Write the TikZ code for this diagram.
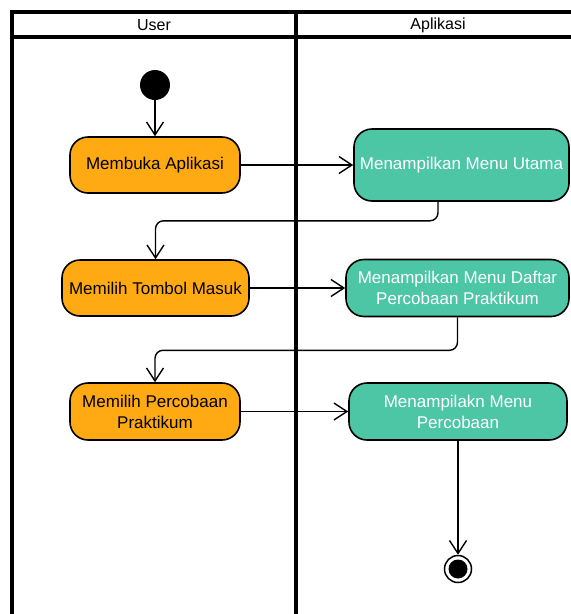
\documentclass[tikz,border=0pt]{standalone}
\usepackage{fontspec}
\setmainfont{Liberation Sans}
\usepackage{xcolor}
\usetikzlibrary{arrows.meta}
\definecolor{usercol}{HTML}{FFAA12}
\definecolor{appcol}{HTML}{4DC6A6}

\begin{document}
\begin{tikzpicture}[x=1pt,y=-1pt,
  font=\fontsize{17}{21}\selectfont,
  lane/.style={line width=3.2pt},
  act/.style={draw,line width=1.6pt,rounded corners=18pt,align=center,inner sep=2pt},
  uact/.style={act,fill=usercol},
  aact/.style={act,fill=appcol,text=white},
  flow/.style={line width=1.4pt,-{Straight Barb[length=13pt,width=17pt]}},
  link/.style={flow,rounded corners=8pt},
]
\useasboundingbox (0,0) rectangle (571,614);

% swimlanes
\draw[lane] (12,614) -- (12,12) -- (571,12);
\draw[lane] (12,37) -- (571,37);
\draw[lane] (296,12) -- (296,614);
\node[font=\fontsize{16}{19}\selectfont] (hUser) at (154,25) {User};
\node[font=\fontsize{16}{19}\selectfont] (hApp)  at (438,25) {Aplikasi};

% start / end
\node[circle,fill=black,minimum size=30pt,inner sep=0pt] (start) at (155,85) {};
\node[circle,draw,line width=1.5pt,minimum size=27pt,inner sep=0pt] (stop) at (458,569) {};
\node[circle,fill=black,minimum size=19pt,inner sep=0pt] (stopdot) at (stop) {};

% user actions
\node[uact,minimum width=170pt,minimum height=56pt] (u1) at (155,165)   {Membuka Aplikasi};
\node[uact,minimum width=187pt,minimum height=56pt] (u2) at (155.5,288) {Memilih Tombol Masuk};
\node[uact,minimum width=170pt,minimum height=57pt] (u3) at (155,411.5) {Memilih Percobaan\\Praktikum};

% application actions
\node[aact,minimum width=215pt,minimum height=72pt] (a1) at (461.5,165) {Menampilkan Menu Utama};
\node[aact,minimum width=223pt,minimum height=57pt] (a2) at (457.5,288) {Menampilkan Menu Daftar\\Percobaan Praktikum};
\node[aact,minimum width=218pt,minimum height=57pt] (a3) at (458,411.5) {Menampilakn Menu\\Percobaan};

% flows
\draw[flow] (start) -- (u1);
\foreach \a/\b in {u1/a1,u2/a2,u3/a3} { \draw[flow] (\a.east) -- (\a.east -| \b.west); }
\draw[link] ([xshift=-23.5pt]a1.south) -- ++(0,19) -| (u2.north);
\draw[link] (a2.south) -- ++(0,33) -| (u3.north);
\draw[flow] (a3.south) -- (stop);
\end{tikzpicture}
\end{document}
